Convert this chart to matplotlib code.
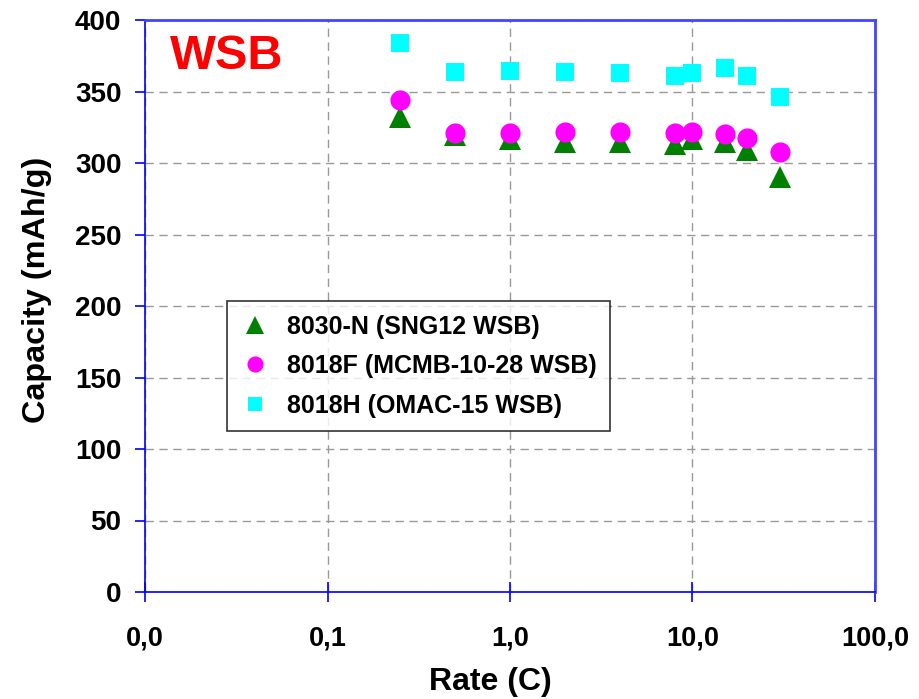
import matplotlib
matplotlib.use("Agg")
import matplotlib.pyplot as plt
from matplotlib.ticker import FixedLocator, FixedFormatter, NullLocator

plt.rcParams['font.family'] = ['Liberation Sans', 'DejaVu Sans']
plt.rcParams['font.weight'] = 'bold'

rate = [0.25, 0.5, 1, 2, 4, 8, 10, 15, 20, 30]
sng12 = [332, 319.5, 317, 314.5, 314.5, 313.3, 317, 315, 309, 290]
mcmb = [344, 321.2, 321.2, 322, 322, 321.2, 322, 320.3, 317.5, 308]
omac = [383.8, 363.6, 364.5, 363.6, 362.7, 360.8, 362.7, 366.4, 360.8, 345.9]

labels = ["8030-N (SNG12 WSB)", "8018F (MCMB-10-28 WSB)", "8018H (OMAC-15 WSB)"]
xticks = [0.01, 0.1, 1, 10, 100]
xticklabels = ["0,0", "0,1", "1,0", "10,0", "100,0"]
yticks = [0, 50, 100, 150, 200, 250, 300, 350, 400]

fig = plt.figure(figsize=(9.2, 6.99), dpi=100)
ax = fig.add_axes([145/920, 1-592/699, 730/920, 572/699])

ax.plot(rate, sng12, linestyle='none', marker='^', markersize=16, color='#008000',
        markeredgewidth=0, label=labels[0], zorder=3)
ax.plot(rate, mcmb, linestyle='none', marker='o', markersize=14.5, color='#FF00FF',
        markeredgewidth=0, label=labels[1], zorder=4)
ax.plot(rate, omac, linestyle='none', marker='s', markersize=13, color='#00FFFF',
        markeredgewidth=0, label=labels[2], zorder=5)

ax.set_xscale('log')
ax.set_xlim(0.01, 100)
ax.set_ylim(0, 400)
ax.xaxis.set_major_locator(FixedLocator(xticks))
ax.xaxis.set_major_formatter(FixedFormatter(xticklabels))
ax.xaxis.set_minor_locator(NullLocator())
ax.set_yticks(yticks)

ax.grid(True, which='major', color='#999999', linestyle=(0, (6, 4)), linewidth=1.0, zorder=0)
ax.set_axisbelow(True)

for s in ['left', 'bottom']:
    ax.spines[s].set_color('#0000FF')
    ax.spines[s].set_linewidth(1.2)
for s in ['top', 'right']:
    ax.spines[s].set_color('#4444FF')
    ax.spines[s].set_linewidth(2)

ax.tick_params(axis='y', direction='out', length=7, width=1.2, color='#0000FF',
               labelsize=20, pad=10)
ax.tick_params(axis='x', direction='inout', length=14, width=1.2, color='#0000FF',
               labelsize=19.5, pad=17)
for t in ax.get_xticklabels() + ax.get_yticklabels():
    t.set_fontweight('bold')

ax.set_xlabel("Rate (C)", fontsize=23, fontweight='bold')
ax.xaxis.set_label_coords(0.473, -0.131)
ax.set_ylabel("Capacity (mAh/g)", fontsize=23.3, fontweight='bold')
ax.yaxis.set_label_coords(-0.127, 0.528)

ax.text(0.034, 0.975, "WSB", transform=ax.transAxes, fontsize=35, fontweight='bold',
        color='#FF0000', va='top', ha='left')

leg = ax.legend(loc='upper left', bbox_to_anchor=(0.112, 0.509), frameon=True,
                fancybox=False, shadow=False, fontsize=18, markerscale=0.8,
                handletextpad=0.7, labelspacing=0.62, borderpad=0.55, handlelength=1.15,
                borderaxespad=0)
leg.get_frame().set_edgecolor('black')
leg.get_frame().set_linewidth(1.2)
for t in leg.get_texts():
    t.set_fontweight('bold')

fig.savefig("out.png", dpi=100)
